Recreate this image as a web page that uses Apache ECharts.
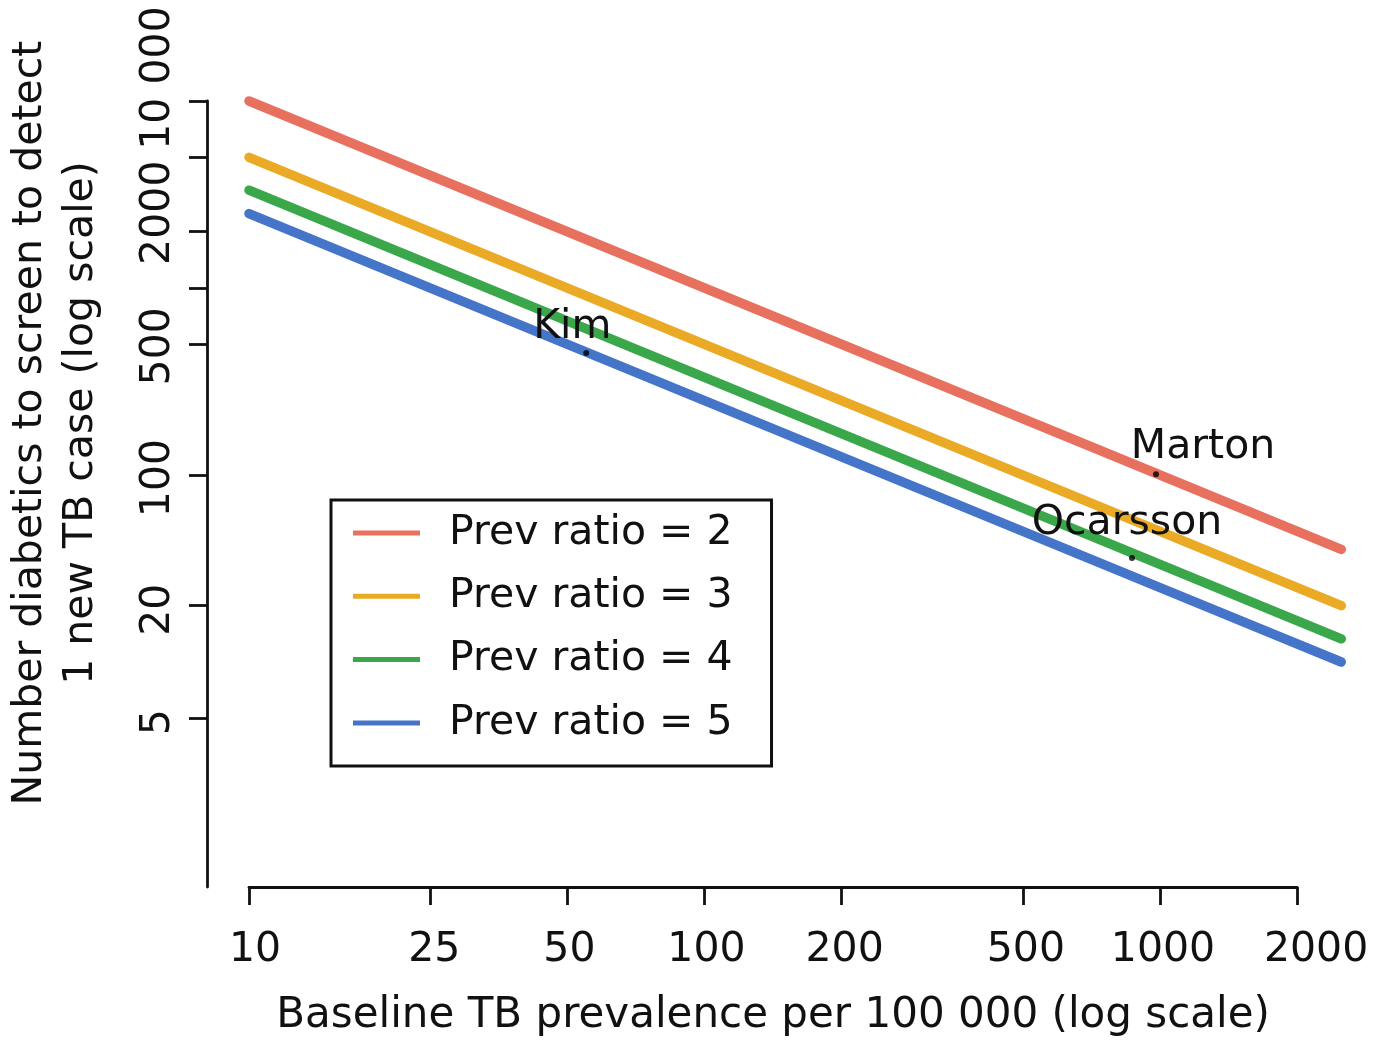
<!DOCTYPE html>
<html><head><meta charset="utf-8">
<script src="https://cdn.jsdelivr.net/npm/echarts@6/dist/echarts.min.js"></script>
<style>html,body{margin:0;padding:0;background:#fff}#c{width:1383px;height:1045px}</style>
</head><body><div id="c"></div>
<script>
// ---------------- data ----------------
const prevalence = [10, 100, 1000, 2500];          // baseline TB prevalence per 100 000
const nnsRatio2 = [10000, 1000, 100, 40];
const nnsRatio3 = [5000, 500, 50, 20];
const nnsRatio4 = [3333, 333, 33.3, 13.3];
const nnsRatio5 = [2500, 250, 25, 10];
const seriesNames = ['Prev ratio = 2', 'Prev ratio = 3', 'Prev ratio = 4', 'Prev ratio = 5'];

const studyNames = ['Kim', 'Marton', 'Ocarsson'];
const studyPrevalence = [55, 980, 868];
const studyNNS = [449, 101, 36];

const xTickValues = [10, 25, 50, 100, 200, 500, 1000, 2000];
const xTickLabels = ['10', '25', '50', '100', '200', '500', '1000', '2000'];
const yTickValues = [10000, 5000, 2000, 1000, 500, 100, 20, 5];
const yLabelValues = [10000, 2000, 500, 100, 20, 5];
const yLabelTexts = ['10 000', '2000', '500', '100', '20', '5'];

const xTitle = 'Baseline TB prevalence per 100 000 (log scale)';
const yTitle = 'Number diabetics to screen to detect\n1 new TB case (log scale)';

// ---------------- layout / style ----------------
const W = 1383, H = 1045;
const X0 = 249, XD = 455.5;   // pixel of x = 10, pixels per decade
const Y0 = 101, YD = 187;     // pixel of y = 10000, pixels per decade
const AX = 207, AY = 887;     // axis line positions
const Y_NAME_CENTER = 423;
const xLabelShift = [6, 4, 2, 2, 3, 3, 3, 19];   // px to the right
const yLabelShift = [23, 19, -2, -3, -4, -4];    // px upward
const studyLabelOffset = [[-14, -2], [47, -3], [-5, -11]];
const colors = ['#E8705E', '#EAAA26', '#3AA84A', '#4575C9'];
const FONT = 'DejaVu Sans';
const INK = '#111111';

const lg = Math.log10;
function nearestIdx(arr, v) {
  let b = 0, d = Infinity;
  arr.forEach((a, i) => { const dd = Math.abs(a - v); if (dd < d) { d = dd; b = i; } });
  return b;
}
const xLabelPos = xTickValues.map((v, i) => lg(v) + xLabelShift[i] / XD);
const yLabelPos = yLabelValues.map((v, i) => lg(v) + yLabelShift[i] / YD);

const ylabTop = 2 * Y_NAME_CENTER - AY;
const noGrid = { containLabel: false, outerBoundsMode: 'none' };

const lineSets = [nnsRatio2, nnsRatio3, nnsRatio4, nnsRatio5];
const lineSeries = lineSets.map((arr, k) => ({
  name: seriesNames[k],
  type: 'line',
  xAxisIndex: 0, yAxisIndex: 0,
  data: prevalence.map((x, i) => [x, arr[i]]),
  symbol: 'none', showSymbol: false,
  color: colors[k],
  itemStyle: { color: colors[k] },
  lineStyle: { color: colors[k], width: 9.5, cap: 'round' },
  z: 2 + k,
  silent: true
}));

const scatterSeries = {
  type: 'scatter',
  xAxisIndex: 0, yAxisIndex: 0,
  symbolSize: 6,
  itemStyle: { color: '#000' },
  z: 10,
  silent: true,
  data: studyNames.map((n, i) => ({
    name: n,
    value: [studyPrevalence[i], studyNNS[i]],
    label: { offset: studyLabelOffset[i] }
  })),
  label: {
    show: true, position: 'top', distance: 0,
    formatter: p => p.name,
    fontFamily: FONT, fontSize: 41, color: INK, opacity: 1,
    textBorderWidth: 0, lineHeight: 42
  }
};

const axisLineStyle = { color: INK, width: 2.8 };

const option = {
  animation: false,
  backgroundColor: '#fff',
  grid: [
    Object.assign({ left: AX, right: 0, top: 20, bottom: H - AY }, noGrid),                 // 0 data
    Object.assign({ left: X0, width: XD * lg(2000 / 10), top: AY - 1, height: 1 }, noGrid), // 1 x axis line
    Object.assign({ left: X0, right: 0, top: AY - 1, height: 1 }, noGrid),                  // 2 x labels
    Object.assign({ left: AX, width: 1, top: Y0, bottom: H - AY }, noGrid),                 // 3 y axis line
    Object.assign({ left: AX, width: 1, top: ylabTop, bottom: H - AY }, noGrid)             // 4 y labels
  ],
  xAxis: [
    { gridIndex: 0, type: 'log', min: Math.pow(10, 1 - (X0 - AX) / XD), max: Math.pow(10, 1 + (W - X0) / XD), show: false },
    { gridIndex: 1, type: 'value', min: 1, max: lg(2000), position: 'bottom',
      axisLine: { show: true, lineStyle: axisLineStyle },
      axisTick: { show: true, length: 18, customValues: xTickValues.map(lg), lineStyle: axisLineStyle },
      axisLabel: { show: false }, splitLine: { show: false },
      name: xTitle, nameLocation: 'middle', nameGap: 108,
      nameTextStyle: { fontFamily: FONT, fontSize: 42, color: INK, lineHeight: 42 } },
    { gridIndex: 2, type: 'value', min: 1, max: 1 + (W - X0) / XD, position: 'bottom',
      axisLine: { show: false }, axisTick: { show: false }, splitLine: { show: false },
      axisLabel: { show: true, customValues: xLabelPos, margin: 42,
        formatter: v => xTickLabels[nearestIdx(xLabelPos, v)],
        fontFamily: FONT, fontSize: 41, color: INK, lineHeight: 42 } },
    { gridIndex: 3, type: 'value', show: false },
    { gridIndex: 4, type: 'value', show: false }
  ],
  yAxis: [
    { gridIndex: 0, type: 'log', min: Math.pow(10, 4 - (AY - Y0) / YD), max: Math.pow(10, 4 + (Y0 - 20) / YD), show: false },
    { gridIndex: 1, type: 'value', show: false },
    { gridIndex: 2, type: 'value', show: false },
    { gridIndex: 3, type: 'value', min: 4 - (AY - Y0) / YD, max: 4, position: 'left',
      axisLine: { show: true, lineStyle: axisLineStyle },
      axisTick: { show: true, length: 18, customValues: yTickValues.map(lg), lineStyle: axisLineStyle },
      axisLabel: { show: false }, splitLine: { show: false } },
    { gridIndex: 4, type: 'value', min: 4 - (AY - Y0) / YD, max: 4 + (Y0 - ylabTop) / YD, position: 'left',
      axisLine: { show: false }, axisTick: { show: false }, splitLine: { show: false },
      axisLabel: { show: true, customValues: yLabelPos, margin: 28, rotate: 90,
        formatter: v => yLabelTexts[nearestIdx(yLabelPos, v)],
        fontFamily: FONT, fontSize: 41, color: INK, lineHeight: 42 },
      name: yTitle, nameLocation: 'middle', nameGap: 100,
      nameTextStyle: { fontFamily: FONT, fontSize: 41, color: INK, lineHeight: 51, align: 'center' } }
  ],
  legend: {
    data: seriesNames,
    orient: 'vertical',
    left: 331, top: 500,
    padding: [8, 39, 18, 22],
    icon: 'rect',
    itemWidth: 67, itemHeight: 5, itemGap: 13.3,
    backgroundColor: '#fff',
    borderColor: INK, borderWidth: 3, borderRadius: 0,
    selectedMode: false,
    textStyle: { fontFamily: FONT, fontSize: 41, color: INK, lineHeight: 50, padding: [0, 0, 0, 24] }
  },
  series: lineSeries.concat([scatterSeries])
};

const chart = echarts.init(document.getElementById('c'), null, { renderer: 'canvas' });
chart.setOption(option);
</script>
</body></html>
